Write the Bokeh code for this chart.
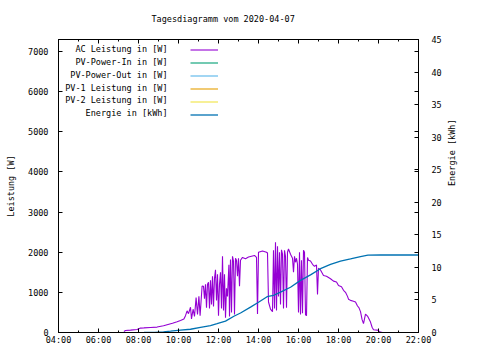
import math
from bokeh.plotting import figure
from bokeh.models import (Range1d, LinearAxis, FixedTicker, Legend, LegendItem,
                          Label, Title)
from bokeh.core.properties import value
from bokeh.embed import file_html
from bokeh.resources import INLINE

# ---------------- data ----------------
TITLE = "Tagesdiagramm vom 2020-04-07"
Y_LABEL = "Leistung [W]"
Y2_LABEL = "Energie [kWh]"

X_TICKS = [4, 6, 8, 10, 12, 14, 16, 18, 20, 22]
X_TICK_LABELS = ["04:00", "06:00", "08:00", "10:00", "12:00", "14:00",
                 "16:00", "18:00", "20:00", "22:00"]
X_MINOR_TICKS = [5, 7, 9, 11, 13, 15, 17, 19, 21]
Y_TICKS = [0, 1000, 2000, 3000, 4000, 5000, 6000, 7000]
Y2_TICKS = [0, 5, 10, 15, 20, 25, 30, 35, 40, 45]
X_MIN, X_MAX = 4, 22
Y_MAX = 7300
Y2_MAX = 45

SERIES_NAMES = ["AC Leistung in [W]", "PV-Power-In in [W]", "PV-Power-Out in [W]",
                "PV-1 Leistung in [W]", "PV-2 Leistung in [W]", "Energie in [kWh]"]
SERIES_COLORS = ["#9400d3", "#009e73", "#56b4e9", "#e69f00", "#f0e442", "#0072b2"]

# AC power (time in hours, W)
ac_time = [7.27, 7.35, 7.6, 7.93, 8.1, 8.27, 8.6, 8.93, 9.25, 9.43, 9.7, 9.93,
           10.1, 10.27, 10.35, 10.43, 10.5, 10.6, 10.65, 10.73, 10.8, 10.88,
           10.95, 11.02, 11.08, 11.18, 11.25, 11.3, 11.35, 11.4, 11.45, 11.5,
           11.55, 11.6, 11.65, 11.7, 11.75, 11.8, 11.85, 11.9, 11.95, 12.0,
           12.05, 12.1, 12.15, 12.2, 12.25, 12.3, 12.35, 12.4, 12.45, 12.52,
           12.55, 12.6, 12.65, 12.7, 12.75, 12.8, 12.85, 12.9, 12.95, 13.0,
           13.05, 13.1, 13.2, 13.35, 13.5, 13.65, 13.8, 13.9, 13.95, 14.0,
           14.2, 14.4, 14.45, 14.5, 14.6, 14.7, 14.75, 14.8, 14.85, 14.9,
           14.95, 15.0, 15.05, 15.1, 15.15, 15.2, 15.25, 15.3, 15.35, 15.4,
           15.45, 15.5, 15.6, 15.7, 15.75, 15.8, 15.85, 15.9, 15.95, 16.0,
           16.05, 16.1, 16.15, 16.2, 16.25, 16.3, 16.35, 16.4, 16.45, 16.5,
           16.6, 16.7, 16.8, 16.9, 16.95, 17.0, 17.1, 17.25, 17.4, 17.6,
           17.75, 17.9, 18.0, 18.15, 18.25, 18.35, 18.45, 18.5, 18.6, 18.75,
           18.85, 18.95, 19.02, 19.1, 19.18, 19.25, 19.35, 19.45, 19.52, 19.6,
           19.68, 19.75, 19.95, 20.1, 20.2]
ac_power = [25, 50, 60, 75, 110, 115, 125, 135, 170, 195, 230, 270,
            300, 335, 420, 540, 470, 630, 340, 580, 400, 870,
            450, 900, 420, 1160, 1150, 840, 1200, 620, 1200, 1250,
            600, 1300, 700, 1400, 650, 1350, 1560, 800, 1450, 420,
            1200, 1500, 600, 1900, 550, 1450, 370, 1100, 900, 1690,
            400, 1820, 500, 1900, 1780, 450, 1850, 1800, 1400, 1850,
            1150, 1800, 1870, 1840, 1880, 1900, 1920, 1870, 460, 2000,
            2030, 2000, 1980, 760, 580, 520, 2050, 600, 2250, 550,
            2150, 900, 2000, 700, 2060, 1950, 600, 2050, 1900, 620,
            2000, 2080, 1950, 1850, 1500, 1900, 1750, 1850, 1700, 500,
            2000, 450, 1800, 480, 2050, 2000, 440, 420, 1870, 1800,
            1780, 1700, 1650, 1680, 950, 1600, 1560, 1420, 1400, 1340,
            1280, 1260, 1170, 1140, 1050, 1000, 900, 830, 800, 780,
            760, 660, 620, 520, 320, 220, 460, 410, 340, 260,
            130, 70, 60, 10, 0]

# Daily energy (time in hours, kWh)
energy_time = [8.27, 8.8, 9.25, 9.6, 10.1, 10.6, 11.1, 11.6, 11.93, 12.35,
               12.77, 13.1, 13.6, 14.0, 14.43, 14.75, 15.1, 15.6, 16.1, 16.6,
               17.1, 17.6, 18.1, 18.6, 19.1, 19.47, 20.1, 22.0]
energy_kwh = [0.0, 0.02, 0.1, 0.2, 0.35, 0.5, 0.78, 1.05, 1.35, 1.75,
              2.5, 3.0, 3.9, 4.65, 5.5, 5.7, 6.2, 6.95, 8.0, 8.85,
              9.8, 10.45, 10.95, 11.3, 11.67, 11.87, 11.9, 11.9]

# series without valid readings on this day (missing values)
NAN = float("nan")
pv_in_time, pv_in_power = [4.0, 22.0], [NAN, NAN]
pv_out_time, pv_out_power = [4.0, 22.0], [NAN, NAN]
pv1_time, pv1_power = [4.0, 22.0], [NAN, NAN]
pv2_time, pv2_power = [4.0, 22.0], [NAN, NAN]

# ---------------- styling ----------------
FONT = "DejaVu Sans Mono"
FS = "8.5px"

p = figure(width=480, height=360, output_backend="svg", toolbar_location=None,
           x_range=Range1d(X_MIN, X_MAX), y_range=Range1d(0, Y_MAX),
           x_axis_type=None, y_axis_type=None,
           min_border_left=58, min_border_right=62, min_border_top=39,
           min_border_bottom=28)
p.extra_y_ranges = {"energy": Range1d(0, Y2_MAX)}
p.grid.visible = False
p.outline_line_color = "black"
p.outline_line_width = 1
p.background_fill_color = "white"
p.border_fill_color = "white"

p.title = Title(text=TITLE, align="left", offset=93, text_font=FONT,
                text_font_size=FS, text_font_style="normal", text_color="black",
                vertical_align="top", standoff=27)


def style_axis(ax):
    ax.axis_line_color = "black"
    ax.major_tick_line_color = "black"
    ax.minor_tick_line_color = "black"
    ax.major_tick_in = 4
    ax.major_tick_out = 0
    ax.minor_tick_in = 2
    ax.minor_tick_out = 0
    ax.major_label_text_font = FONT
    ax.major_label_text_font_size = FS
    ax.major_label_text_color = "black"
    ax.axis_label_text_font = FONT
    ax.axis_label_text_font_size = FS
    ax.axis_label_text_font_style = "normal"
    ax.axis_label_text_color = "black"


xb = LinearAxis(ticker=FixedTicker(ticks=X_TICKS, minor_ticks=X_MINOR_TICKS),
                major_label_overrides=dict(zip(X_TICKS, X_TICK_LABELS)))
style_axis(xb)
xb.major_label_standoff = 2
p.add_layout(xb, "below")

xt = LinearAxis(ticker=FixedTicker(ticks=X_TICKS, minor_ticks=X_MINOR_TICKS),
                major_label_overrides={t: "" for t in X_TICKS})
style_axis(xt)
xt.major_label_standoff = 0
p.add_layout(xt, "above")

yl = LinearAxis(ticker=FixedTicker(ticks=Y_TICKS, minor_ticks=[]),
                axis_label=Y_LABEL)
style_axis(yl)
yl.major_label_standoff = 10
yl.axis_label_standoff = 9
p.add_layout(yl, "left")

# right axis: energy ticks plus mirrored power ticks
mirror = [t * Y2_MAX / Y_MAX for t in Y_TICKS[1:]]
yr = LinearAxis(y_range_name="energy",
                ticker=FixedTicker(ticks=Y2_TICKS, minor_ticks=mirror),
                axis_label=Y2_LABEL)
style_axis(yr)
yr.minor_tick_in = 4
yr.major_label_standoff = 13
yr.axis_label_standoff = 7
yr.axis_label_orientation = math.pi / 2
p.add_layout(yr, "right")

r_ac = p.line(ac_time, ac_power, line_color=SERIES_COLORS[0], line_width=1.1)
r_in = p.line(pv_in_time, pv_in_power, line_color=SERIES_COLORS[1], line_width=1.1)
r_out = p.line(pv_out_time, pv_out_power, line_color=SERIES_COLORS[2], line_width=1.1)
r_p1 = p.line(pv1_time, pv1_power, line_color=SERIES_COLORS[3], line_width=1.1)
r_p2 = p.line(pv2_time, pv2_power, line_color=SERIES_COLORS[4], line_width=1.1)
r_en = p.line(energy_time, energy_kwh, line_color=SERIES_COLORS[5], line_width=1.3,
              y_range_name="energy")
renderers = [r_ac, r_in, r_out, r_p1, r_p2, r_en]

# key: text right-aligned, line sample to its right
FRAME_H = 293
ROW_H = 12.9
ROW0 = FRAME_H - 10.3
legend = Legend(items=[LegendItem(label=value(" "), renderers=[r]) for r in renderers],
                location=(132, ROW0 - 5 * ROW_H - 7.5), glyph_width=28,
                glyph_height=13, label_height=13, label_width=0,
                label_standoff=0, spacing=0, padding=0, margin=0,
                border_line_color=None, background_fill_alpha=0,
                label_text_font_size="1px")
p.add_layout(legend)

for i, name in enumerate(SERIES_NAMES):
    p.add_layout(Label(x=109, y=ROW0 - i * ROW_H + 1.0, x_units="screen",
                       y_units="screen", text=name, text_align="right",
                       text_baseline="middle", text_font=FONT,
                       text_font_size=FS, text_color="black"))

open("out.html", "w").write(file_html(p, INLINE))
